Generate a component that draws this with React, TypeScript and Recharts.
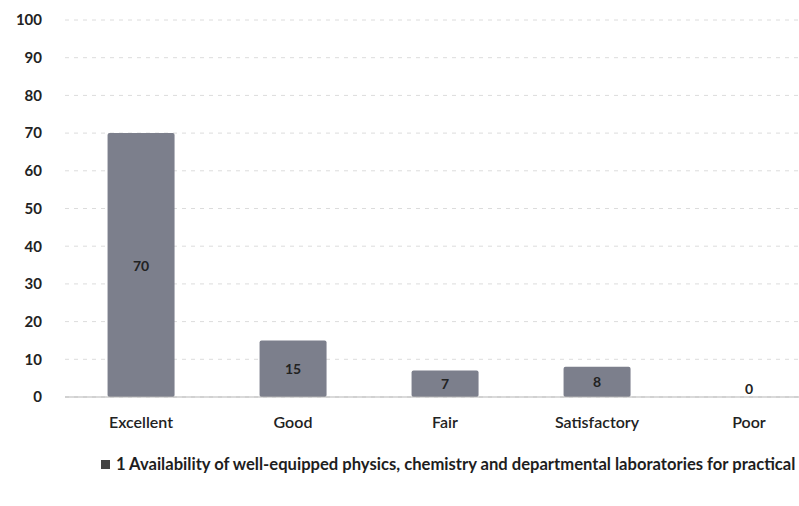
import React from "react";
import {
  Bar,
  BarChart,
  CartesianGrid,
  LabelList,
  Legend,
  ReferenceDot,
  XAxis,
  YAxis,
} from "recharts";

const categories = ["Excellent", "Good", "Fair", "Satisfactory", "Poor"];
const values = [70, 15, 7, 8, 0];
const yTicks = [0, 10, 20, 30, 40, 50, 60, 70, 80, 90, 100];
const seriesName =
  "1 Availability of well-equipped physics, chemistry and departmental laboratories for practical";

const data = categories.map((c, i) => ({ name: c, value: values[i] }));

const FONT = "Lato, 'Open Sans', sans-serif";
const BAR = "#7c7f8c";

const ValueLabel = (props: any) => {
  const { x, y, width, height, value } = props;
  if (!value) return null;
  return (
    <text
      x={x + width / 2}
      y={y + height / 2}
      textAnchor="middle"
      dominantBaseline="central"
      fontFamily={FONT}
      fontWeight={700}
      fontSize={14}
      fill="#222"
    >
      {value}
    </text>
  );
};

const LegendContent = () => (
  <div
    style={{
      fontFamily: FONT,
      fontWeight: 700,
      fontSize: 16.6,
      color: "#1e1e1e",
      display: "flex",
      alignItems: "center",
      whiteSpace: "nowrap",
    }}
  >
    <span
      style={{
        display: "inline-block",
        width: 9,
        height: 9,
        background: "#444",
        marginRight: 6,
      }}
    />
    {seriesName}
  </div>
);

export default function App() {
  return (
    <div
      style={{
        position: "absolute",
        left: 0,
        top: 0,
        width: 799,
        height: 506,
        overflow: "hidden",
        background: "#fff",
      }}
    >
      <BarChart
        width={830}
        height={506}
        data={data}
        margin={{ top: 20, right: 5, bottom: 79, left: 0 }}
        barCategoryGap="28%"
      >
        <CartesianGrid
          vertical={false}
          stroke="#dcdcdc"
          strokeDasharray="4 5"
        />
        <XAxis
          dataKey="name"
          height={30}
          tickLine={false}
          tickMargin={14}
          axisLine={{ stroke: "#b5b5b5" }}
          tick={{ fontFamily: FONT, fontSize: 16, fontWeight: 600, fill: "#222" }}
        />
        <YAxis
          width={65}
          domain={[0, 100]}
          ticks={yTicks}
          interval={0}
          axisLine={false}
          tickLine={false}
          tickMargin={17}
          tick={{ fontFamily: FONT, fontSize: 15, fontWeight: 700, fill: "#222" }}
        />
        <Legend
          layout="horizontal"
          verticalAlign="middle"
          align="center"
          wrapperStyle={{ top: 454, left: 101, width: 710 }}
          content={<LegendContent />}
        />
        <Bar
          dataKey="value"
          name={seriesName}
          fill={BAR}
          radius={2}
          isAnimationActive={false}
        >
          <LabelList dataKey="value" content={<ValueLabel />} />
        </Bar>
        <ReferenceDot
          x={categories[4]}
          y={values[4]}
          r={0}
          stroke="none"
          fill="none"
          label={{
            value: String(values[4]),
            position: "top",
            offset: 3,
            fontFamily: FONT,
            fontWeight: 700,
            fontSize: 14,
            fill: "#222",
          }}
        />
      </BarChart>
    </div>
  );
}
